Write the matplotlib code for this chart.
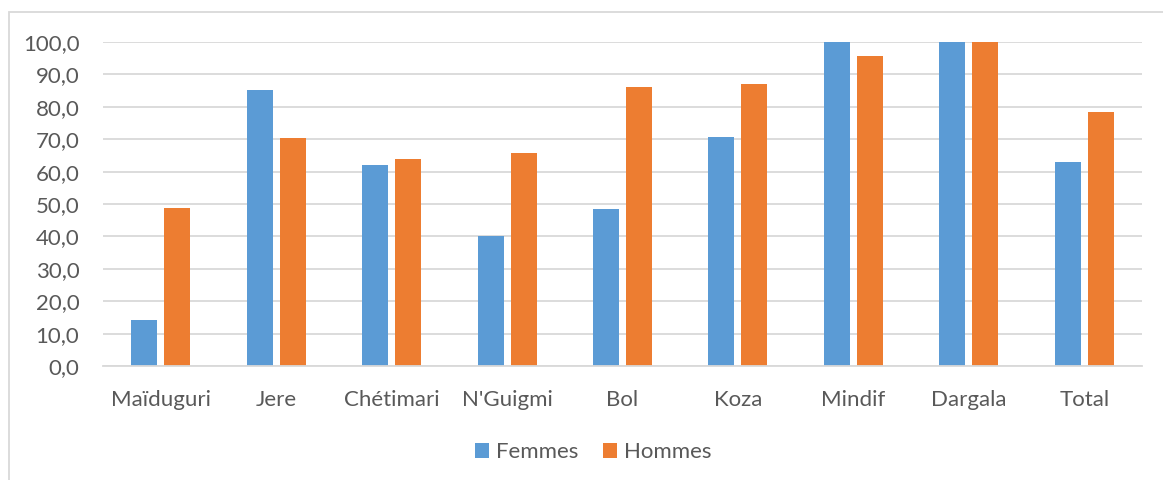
import matplotlib
matplotlib.use("Agg")
import matplotlib.pyplot as plt
from matplotlib.patches import Rectangle
import numpy as np

plt.rcParams['font.family'] = ['Lato', 'DejaVu Sans']

categories = ["Maïduguri", "Jere", "Chétimari", "N'Guigmi", "Bol", "Koza", "Mindif", "Dargala", "Total"]
femmes = [14.2, 85.1, 62.0, 40.0, 48.4, 70.6, 100.0, 100.0, 63.0]
hommes = [48.8, 70.5, 63.8, 65.6, 86.1, 87.0, 95.7, 100.0, 78.3]
y_ticks = [0, 10, 20, 30, 40, 50, 60, 70, 80, 90, 100]

W, H = 1163, 480
fig = plt.figure(figsize=(W / 100, H / 100), dpi=100)
fig.patch.set_facecolor("white")

# light chart-area frame (open to the right and bottom)
fig.patches.append(Rectangle((9 / W, -0.1), 1.2, (H - 12) / H + 0.1,
                             transform=fig.transFigure, fill=False,
                             edgecolor="#d9d9d9", linewidth=1.3))

ax = fig.add_axes([103 / W, 114 / H, (1142 - 103) / W, (366 - 42) / H])

x = np.arange(len(categories))
bw = 0.225
off = 0.143
ax.bar(x - off, femmes, bw, color="#5B9BD5", label="Femmes", zorder=3)
ax.bar(x + off, hommes, bw, color="#ED7D31", label="Hommes", zorder=3)

ax.set_xlim(-0.5, len(categories) - 0.5)
ax.set_ylim(0, 100)
ax.set_yticks(y_ticks)
ax.set_yticklabels([f"{v:.1f}".replace(".", ",") for v in y_ticks])
ax.set_xticks(x)
ax.set_xticklabels(categories)

ax.yaxis.grid(True, color="#d9d9d9", linewidth=1.3, zorder=0)
ax.set_axisbelow(True)
for s in ["top", "right", "left"]:
    ax.spines[s].set_visible(False)
ax.spines["bottom"].set_color("#d9d9d9")
ax.spines["bottom"].set_linewidth(1.3)
ax.spines["bottom"].set_zorder(4)

ax.tick_params(axis="both", length=0, colors="#595959", labelsize=16)
ax.tick_params(axis="y", pad=17)
ax.tick_params(axis="x", pad=17)

leg = fig.legend(loc="center", bbox_to_anchor=(593 / W, 1 - 452 / H), ncol=2,
                 frameon=False, fontsize=16, handlelength=0.65, handleheight=0.65,
                 columnspacing=1.1, handletextpad=0.3)
for t in leg.get_texts():
    t.set_color("#595959")

fig.savefig("out.png", dpi=100)
